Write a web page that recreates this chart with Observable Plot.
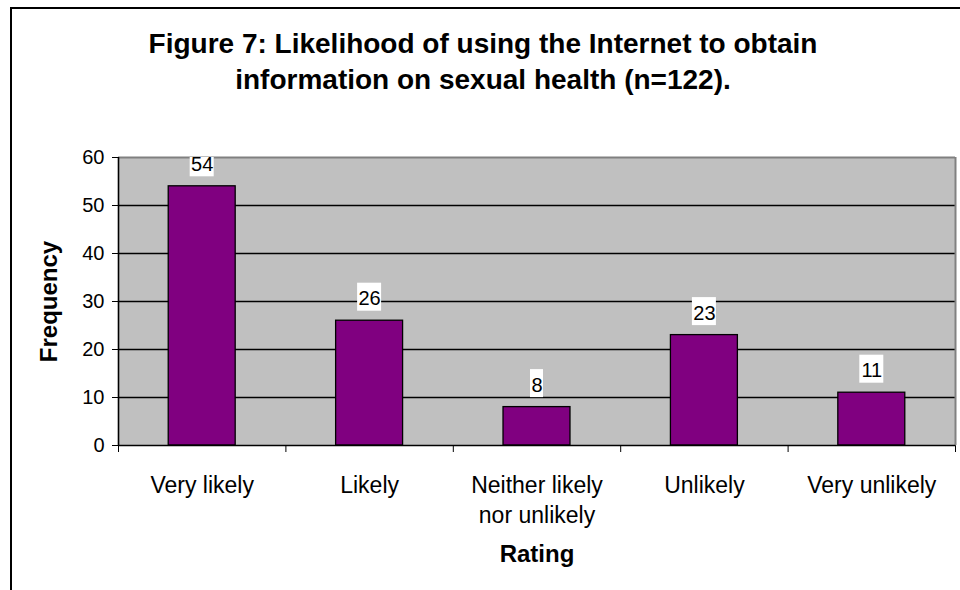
<!DOCTYPE html>
<html>
<head>
<meta charset="utf-8">
<script src="https://cdn.jsdelivr.net/npm/d3@7"></script>
<script src="https://cdn.jsdelivr.net/npm/@observablehq/plot@0.6"></script>
<style>
  html, body { margin: 0; padding: 0; background: white; overflow: hidden; }
  body { width: 960px; height: 590px; position: relative; font-family: "Liberation Sans", Arial, sans-serif; }
  #border { position: absolute; left: 10px; top: 7px; width: 1200px; height: 1200px; border: 2px solid black; box-sizing: border-box; pointer-events: none; }
  #title { box-sizing: border-box; height: 130px; padding-top: 26px; width: 966px; text-align: center; font-weight: bold; font-size: 28px; line-height: 36px; color: black; }
  #chart svg { display: block; }
</style>
</head>
<body>
<div id="border"></div>
<div id="title">Figure 7: Likelihood of using the Internet to obtain<br>information on sexual health (n=122).</div>
<div id="chart"></div>
<script>
const categories = ["Very likely", "Likely", "Neither likely\nnor unlikely", "Unlikely", "Very unlikely"];
const frequencies = [54, 26, 8, 23, 11];
const yTicks = [0, 10, 20, 30, 40, 50, 60];
const xTitle = "Rating";
const yTitle = "Frequency";

const data = categories.map((c, i) => ({category: c, index: i, value: frequencies[i], label: String(frequencies[i])}));

const chart = Plot.plot({
  width: 960,
  height: 460,
  marginLeft: 118,
  marginRight: 5,
  marginTop: 27,
  marginBottom: 145,
  style: {fontFamily: "'Liberation Sans', Arial, sans-serif", fontSize: "20px", background: "transparent", color: "black", overflow: "visible"},
  x: {domain: [0, categories.length], ticks: d3.range(categories.length + 1), tickFormat: () => "", tickSize: 7, label: null},
  y: {domain: [0, 60], ticks: yTicks, tickSize: 6, tickPadding: 8, label: null},
  marks: [
    Plot.frame({fill: "#c0c0c0", stroke: null}),
    Plot.ruleY(yTicks.filter(t => t > 0 && t < 60), {stroke: "black", strokeWidth: 1.3}),
    Plot.ruleY([60], {stroke: "#808080", strokeWidth: 2}),
    Plot.ruleX([categories.length], {stroke: "#808080", strokeWidth: 2}),
    Plot.rectY(data, {x1: d => d.index + 0.3, x2: d => d.index + 0.7, y: "value", fill: "#800080", stroke: "black", strokeWidth: 1.3}),
    Plot.ruleY([0], {stroke: "black", strokeWidth: 1.6}),
    Plot.ruleX([0], {stroke: "black", strokeWidth: 1.6}),
    Plot.rect(data.filter(d => d.label.length > 1), {x1: d => d.index + 0.5, x2: d => d.index + 0.5, y1: "value", y2: "value", insetLeft: -12, insetRight: -12, insetTop: -14, insetBottom: -14, dy: -23.5, fill: "white", clip: true}),
    Plot.rect(data.filter(d => d.label.length === 1), {x1: d => d.index + 0.5, x2: d => d.index + 0.5, y1: "value", y2: "value", insetLeft: -6.5, insetRight: -6.5, insetTop: -14, insetBottom: -14, dy: -23.5, fill: "white", clip: true}),
    Plot.text(data, {x: d => d.index + 0.5, y: "value", text: "label", dy: -22, fontSize: 20, fill: "black"}),
    Plot.text(data, {x: d => d.index + 0.5, frameAnchor: "bottom", text: "category", textAnchor: "middle", lineAnchor: "top", dy: 26, fontSize: 23, lineHeight: 1.3, fill: "black"}),
    Plot.text([xTitle], {frameAnchor: "bottom", textAnchor: "middle", lineAnchor: "middle", dy: 109, fontSize: 24, fontWeight: "bold", fill: "black"}),
    Plot.text([yTitle], {frameAnchor: "left", textAnchor: "middle", lineAnchor: "middle", rotate: -90, dx: -69, fontSize: 24, fontWeight: "bold", fill: "black"})
  ]
});
document.getElementById("chart").appendChild(chart);
</script>
</body>
</html>
